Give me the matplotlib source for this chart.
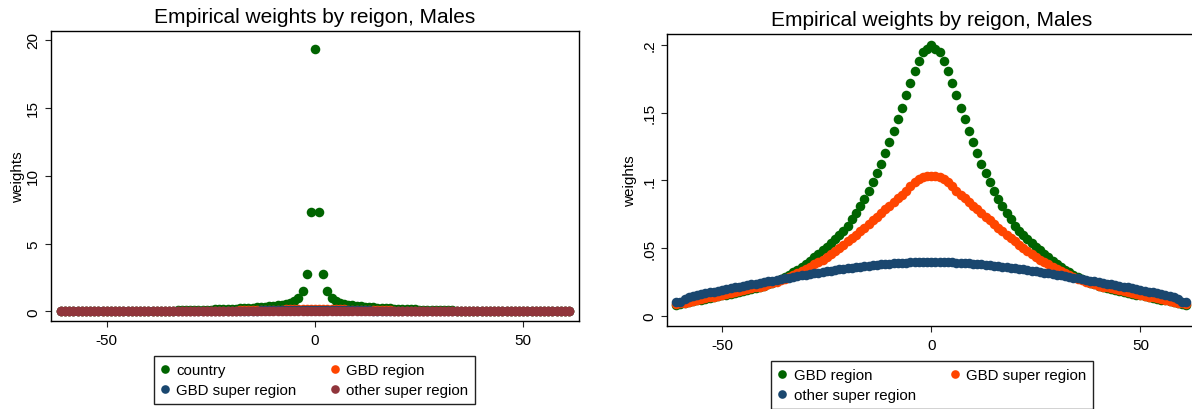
import numpy as np
import matplotlib
matplotlib.use("Agg")
from matplotlib import pyplot as plt

plt.rcParams["font.family"] = ["Liberation Sans", "DejaVu Sans"]

# distance from reference (0..61), curves are symmetric around 0
dist = list(range(0, 62))

country_half = [
    19.3, 7.33, 2.77, 1.50, 0.97, 0.76, 0.64, 0.56, 0.50, 0.45,
    0.41, 0.38, 0.35, 0.32, 0.30, 0.28, 0.26, 0.24, 0.22, 0.21,
    0.19, 0.18, 0.17, 0.16, 0.15, 0.14, 0.13, 0.12, 0.11, 0.10,
    0.09, 0.085, 0.08, 0.075, 0.07, 0.065, 0.06, 0.057, 0.054, 0.051,
    0.048, 0.046, 0.044, 0.042, 0.040, 0.038, 0.037, 0.036, 0.035, 0.034,
    0.033, 0.032, 0.031, 0.030, 0.029, 0.028, 0.027, 0.026, 0.025, 0.024,
    0.023, 0.022,
]
gbd_region_half = [
    0.200, 0.197, 0.1945, 0.188, 0.1806, 0.1718, 0.163, 0.1536, 0.145, 0.1362,
    0.128, 0.120, 0.1124, 0.1055, 0.0987, 0.0923, 0.0864, 0.081, 0.0758, 0.0712,
    0.0667, 0.0628, 0.0598, 0.0568, 0.054, 0.0512, 0.0485, 0.0458, 0.0432, 0.0407,
    0.0384, 0.0362, 0.0341, 0.0322, 0.0304, 0.0288, 0.0273, 0.0259, 0.0246, 0.0234,
    0.0223, 0.0214, 0.0206, 0.0198, 0.0191, 0.0184, 0.0177, 0.0170, 0.0163, 0.0157,
    0.0151, 0.0145, 0.0139, 0.0133, 0.0127, 0.0121, 0.0115, 0.0109, 0.0102, 0.0095,
    0.0088, 0.0080,
]
gbd_super_half = [
    0.1035, 0.1033, 0.1025, 0.1010, 0.0985, 0.0955, 0.0925, 0.0895, 0.0868, 0.0840,
    0.0813, 0.0786, 0.0759, 0.0732, 0.0705, 0.0678, 0.0652, 0.0626, 0.0600, 0.0575,
    0.0550, 0.0525, 0.0501, 0.0478, 0.0456, 0.0435, 0.0416, 0.0398, 0.0381, 0.0364,
    0.0348, 0.0332, 0.0316, 0.0301, 0.0287, 0.0274, 0.0262, 0.0251, 0.0241, 0.0232,
    0.0224, 0.0217, 0.0210, 0.0203, 0.0196, 0.0189, 0.0182, 0.0175, 0.0168, 0.0161,
    0.0155, 0.0149, 0.0143, 0.0137, 0.0131, 0.0125, 0.0119, 0.0113, 0.0106, 0.0099,
    0.0092, 0.0086,
]
other_super_half = [
    0.0398, 0.0398, 0.0398, 0.0397, 0.0396, 0.0395, 0.0393, 0.0391, 0.0389, 0.0387,
    0.0385, 0.0382, 0.0380, 0.0377, 0.0374, 0.0371, 0.0368, 0.0364, 0.0360, 0.0357,
    0.0353, 0.0348, 0.0344, 0.0339, 0.0334, 0.0329, 0.0324, 0.0319, 0.0314, 0.0309,
    0.0304, 0.0299, 0.0294, 0.0288, 0.0283, 0.0278, 0.0272, 0.0266, 0.0261, 0.0255,
    0.0250, 0.0244, 0.0238, 0.0233, 0.0227, 0.0222, 0.0216, 0.0210, 0.0204, 0.0197,
    0.0190, 0.0185, 0.0179, 0.0174, 0.0168, 0.0162, 0.0155, 0.0147, 0.0137, 0.0122,
    0.0106, 0.0100,
]


def mirror(half):
    return np.array(half[::-1] + half[1:])


x = np.concatenate([-np.array(dist[::-1]), np.array(dist[1:])])
country = mirror(country_half)
gbd_region = mirror(gbd_region_half)
gbd_super = mirror(gbd_super_half)
other_super = mirror(other_super_half)

GREEN = "#006400"
ORANGE = "#ff4500"
NAVY = "#1a476f"
MAROON = "#90353b"

W, H = 1192, 410
fig = plt.figure(figsize=(W / 100, H / 100), dpi=100)


def px_axes(x0, x1, y0, y1):
    return fig.add_axes([x0 / W, 1 - y1 / H, (x1 - x0) / W, (y1 - y0) / H])


def style(ax, yticks, ylabels, xlim, ylim, title):
    ax.set_xlim(*xlim)
    ax.set_ylim(*ylim)
    ax.set_xticks([-50, 0, 50])
    ax.set_xticklabels(["-50", "0", "50"])
    ax.set_yticks(yticks)
    ax.set_yticklabels(ylabels, rotation=90, va="center")
    ax.tick_params(direction="out", length=4.3, width=0.8, labelsize=11,
                   color="#222222", pad=3.5)
    ax.tick_params(axis="x", pad=4.5)
    for s in ax.spines.values():
        s.set_linewidth(1.0)
        s.set_color("black")
    ax.set_ylabel("weights", fontsize=11)
    ax.set_title(title, fontsize=15, pad=6.5)


ms = 6.9
legend_kw = dict(ncol=2, loc="upper left", mode="expand", fontsize=10.8,
                 handlelength=0.6, handletextpad=0.45, borderpad=0.45,
                 labelspacing=0.42, borderaxespad=0, fancybox=False,
                 framealpha=1, edgecolor="#222222", markerscale=0.9)

# ---- left panel
ax1 = px_axes(51, 579, 32, 322)
h_c, = ax1.plot(x, country, "o", color=GREEN, ms=ms, mew=0, label="country")
h_r, = ax1.plot(x, gbd_region, "o", color=ORANGE, ms=ms, mew=0, label="GBD region")
h_s, = ax1.plot(x, gbd_super, "o", color=NAVY, ms=ms, mew=0, label="GBD super region")
h_o, = ax1.plot(x, other_super, "o", color=MAROON, ms=ms, mew=0, label="other super region")
style(ax1, [0, 5, 10, 15, 20], ["0", "5", "10", "15", "20"],
      (-63.4, 63.4), (-0.70, 20.63), "Empirical weights by reigon, Males")
ax1.yaxis.set_label_coords(-0.05, 0.5)

leg1 = fig.legend([h_c, h_s, h_r, h_o],
                  ["country", "GBD super region", "GBD region", "other super region"],
                  bbox_to_anchor=(154 / W, 1 - 357 / H - 0.01, (475 - 154) / W, 0.01),
                  **legend_kw)
leg1.get_frame().set_linewidth(1.0)

# ---- right panel
ax2 = px_axes(667, 1196, 35, 327)
g_r, = ax2.plot(x, gbd_region, "o", color=GREEN, ms=ms, mew=0, label="GBD region")
g_s, = ax2.plot(x, gbd_super, "o", color=ORANGE, ms=ms, mew=0, label="GBD super region")
g_o, = ax2.plot(x, other_super, "o", color=NAVY, ms=ms, mew=0, label="other super region")
style(ax2, [0, 0.05, 0.1, 0.15, 0.2], ["0", ".05", ".1", ".15", ".2"],
      (-63.2, 63.3), (-0.0074, 0.2079), "Empirical weights by reigon, Males")
ax2.yaxis.set_label_coords(-0.057, 0.5)

leg2 = fig.legend([g_r, g_o, g_s],
                  ["GBD region", "other super region", "GBD super region"],
                  bbox_to_anchor=(771 / W, 1 - 362 / H - 0.01, (1093 - 771) / W, 0.01),
                  **legend_kw)
leg2.get_frame().set_linewidth(1.0)

fig.savefig("out.png", dpi=100)
